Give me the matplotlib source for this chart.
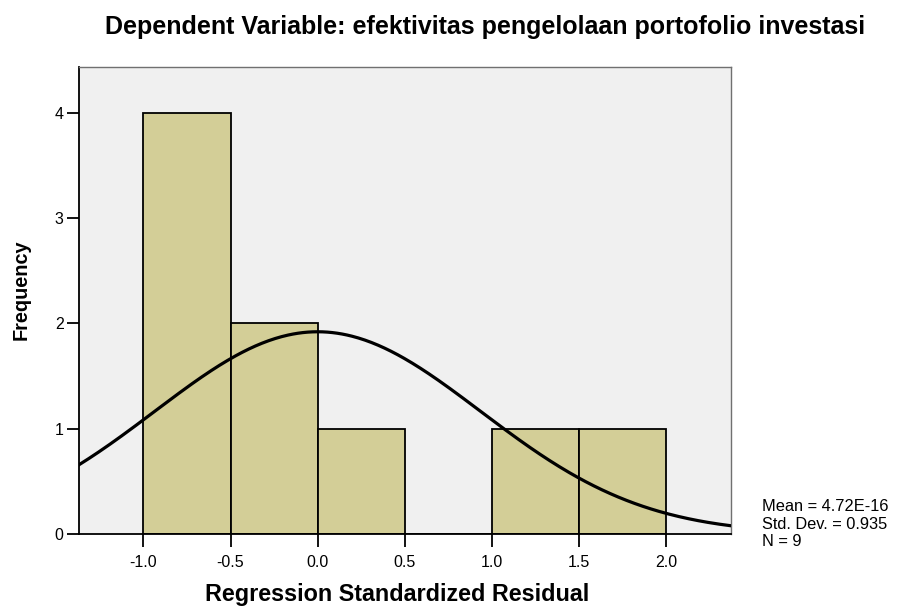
import numpy as np
import matplotlib.pyplot as plt

plt.rcParams['font.family'] = ['Liberation Sans', 'DejaVu Sans']

bin_edges = [-1.0, -0.5, 0.0, 0.5, 1.0, 1.5, 2.0]
counts = [4, 2, 1, 0, 1, 1]
mean = 4.72e-16
std = 0.935
n = 9
xticks = [-1.0, -0.5, 0.0, 0.5, 1.0, 1.5, 2.0]
yticks = [0, 1, 2, 3, 4]

fig = plt.figure(figsize=(8.98, 6.08), dpi=100)
ax = fig.add_axes([0.088, 0.122, 0.726, 0.768])
ax.set_facecolor('#f0f0f0')

lefts = bin_edges[:-1]
width = bin_edges[1] - bin_edges[0]
ax.bar(lefts, counts, width=width, align='edge', color='#d3ce97',
       edgecolor='black', linewidth=1.3, zorder=2)

xs = np.linspace(-1.37, 2.373, 400)
ys = n * width / (std * np.sqrt(2 * np.pi)) * np.exp(-0.5 * ((xs - mean) / std) ** 2)
ax.plot(xs, ys, color='black', linewidth=2.3, zorder=3)

ax.set_xlim(-1.37, 2.373)
ax.set_ylim(0, 4.437)
ax.set_xticks(xticks)
ax.set_xticklabels(['%.1f' % t for t in xticks])
ax.set_yticks(yticks)
ax.tick_params(axis='both', direction='out', width=1.3, labelsize=11.5)
ax.tick_params(axis='y', length=9, pad=2)
ax.tick_params(axis='x', length=9, pad=6)

for side in ['top', 'right']:
    ax.spines[side].set_color('#707070')
    ax.spines[side].set_linewidth(1)
for side in ['left', 'bottom']:
    ax.spines[side].set_linewidth(1.3)

ax.set_xlabel('Regression Standardized Residual', fontsize=16.8, fontweight='bold')
ax.xaxis.set_label_coords(0.488, -0.106)
ax.set_ylabel('Frequency', fontsize=14.3, fontweight='bold')
ax.yaxis.set_label_coords(-0.074, 0.522)
fig.text(0.54, 0.956, 'Dependent Variable: efektivitas pengelolaan portofolio investasi',
         ha='center', va='center', fontsize=18, fontweight='bold')
fig.text(0.849, 0.138, 'Mean = 4.72E-16\nStd. Dev. = 0.935\nN = %d' % n,
         ha='left', va='center', fontsize=11.8, linespacing=1.2)

fig.savefig('out.png', dpi=100)
